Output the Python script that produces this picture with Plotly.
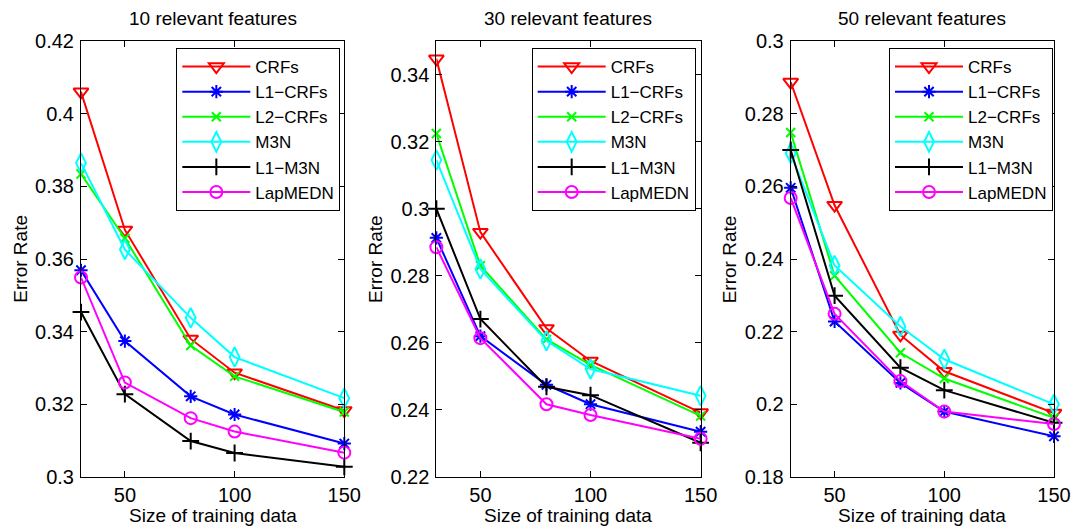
import plotly.graph_objects as go

x_sizes = [30, 50, 80, 100, 150]
methods = ["CRFs", "L1\u2212CRFs", "L2\u2212CRFs", "M3N", "L1\u2212M3N", "LapMEDN"]
titles = ["10 relevant features", "30 relevant features", "50 relevant features"]

p1_crfs = [0.406, 0.368, 0.338, 0.3287, 0.3183]
p1_l1crfs = [0.3569, 0.3374, 0.3222, 0.3172, 0.3092]
p1_l2crfs = [0.3834, 0.3657, 0.3362, 0.3277, 0.3179]
p1_m3n = [0.3864, 0.3626, 0.3438, 0.333, 0.3217]
p1_l1m3n = [0.3454, 0.3228, 0.3099, 0.3066, 0.3028]
p1_lapmedn = [0.3549, 0.326, 0.3162, 0.3125, 0.3067]

p2_crfs = [0.3447, 0.293, 0.2643, 0.2546, 0.2392]
p2_l1crfs = [0.2913, 0.262, 0.2475, 0.2417, 0.2335]
p2_l2crfs = [0.3224, 0.283, 0.261, 0.2534, 0.2382]
p2_m3n = [0.3145, 0.282, 0.2606, 0.2522, 0.2442]
p2_l1m3n = [0.300, 0.2671, 0.2469, 0.2444, 0.2302]
p2_lapmedn = [0.2885, 0.2614, 0.2417, 0.2385, 0.2314]

p3_crfs = [0.2887, 0.2548, 0.2191, 0.2091, 0.1976]
p3_l1crfs = [0.2596, 0.2228, 0.2059, 0.198, 0.1912]
p3_l2crfs = [0.2748, 0.2354, 0.2142, 0.2071, 0.1963]
p3_m3n = [0.2691, 0.2382, 0.2214, 0.2124, 0.2]
p3_l1m3n = [0.270, 0.2299, 0.2101, 0.2039, 0.1949]
p3_lapmedn = [0.2568, 0.2249, 0.2064, 0.198, 0.1946]

x_ticks = [50, 100, 150]
y1_ticks = [0.30, 0.32, 0.34, 0.36, 0.38, 0.40, 0.42]
y1_labels = ["0.3", "0.32", "0.34", "0.36", "0.38", "0.4", "0.42"]
y2_ticks = [0.22, 0.24, 0.26, 0.28, 0.30, 0.32, 0.34]
y2_labels = ["0.22", "0.24", "0.26", "0.28", "0.3", "0.32", "0.34"]
y3_ticks = [0.18, 0.20, 0.22, 0.24, 0.26, 0.28, 0.30]
y3_labels = ["0.18", "0.2", "0.22", "0.24", "0.26", "0.28", "0.3"]

panels = [
    [p1_crfs, p1_l1crfs, p1_l2crfs, p1_m3n, p1_l1m3n, p1_lapmedn],
    [p2_crfs, p2_l1crfs, p2_l2crfs, p2_m3n, p2_l1m3n, p2_lapmedn],
    [p3_crfs, p3_l1crfs, p3_l2crfs, p3_m3n, p3_l1m3n, p3_lapmedn],
]
y_ranges = [[0.30, 0.42], [0.22, 0.35], [0.18, 0.30]]
y_ticks = [y1_ticks, y2_ticks, y3_ticks]
y_labels = [y1_labels, y2_labels, y3_labels]

colors = ["#FF0000", "#0000FF", "#00FF00", "#00FFFF", "#000000", "#FF00FF"]
symbols = ["triangle-down-open", "asterisk-open", "x-thin-open", "diamond-tall-open",
           "cross-thin-open", "circle-open"]
msizes = [13, 11, 9, 14, 12, 12]

FONT = "Liberation Sans, Arial, sans-serif"
OFF = 8  # page body margin
W, H = 1083 - OFF, 527 - OFF
px_domains = [(81 - OFF, 347 - OFF), (440 - OFF, 707 - OFF), (798 - OFF, 1064 - OFF)]
top_px, bot_px = 41 - OFF, 477 - OFF
ml = px_domains[0][0]
mr = W - px_domains[2][1]
mt = top_px
mb = H - bot_px
pw = W - ml - mr
ph = H - mt - mb
domains = [[(a - ml) / pw, (b - ml) / pw] for a, b in px_domains]
legend_right = [343 - OFF, 702 - OFF, 1063 - OFF]
legend_top = 48 - OFF

fig = go.Figure()
layout = dict(
    width=W, height=H,
    margin=dict(l=ml, r=mr, t=mt, b=mb),
    paper_bgcolor="white", plot_bgcolor="white",
    font=dict(family=FONT, size=19, color="black"),
    annotations=[],
)

for p in range(3):
    sfx = "" if p == 0 else str(p + 1)
    lg = "legend" if p == 0 else "legend" + str(p + 1)
    for i, name in enumerate(methods):
        fig.add_trace(go.Scatter(
            x=x_sizes, y=panels[p][i], name=name, mode="lines+markers",
            line=dict(color=colors[i], width=2), cliponaxis=False,
            marker=dict(symbol=symbols[i], size=msizes[i], color=colors[i],
                        line=dict(color=colors[i], width=2)),
            xaxis="x" + sfx, yaxis="y" + sfx, legend=lg,
        ))
    layout["xaxis" + sfx] = dict(
        domain=domains[p], anchor="y" + sfx, range=[30, 150],
        tickvals=x_ticks, ticks="inside", ticklen=6, tickcolor="black",
        showline=True, linecolor="black", linewidth=1, mirror="ticks",
        showgrid=False, zeroline=False, tickfont=dict(size=20),
    )
    layout["yaxis" + sfx] = dict(
        domain=[0, 1], anchor="x" + sfx, range=y_ranges[p],
        tickvals=y_ticks[p], ticktext=y_labels[p], ticks="inside", ticklen=6,
        tickcolor="black", showline=True, linecolor="black", linewidth=1,
        mirror="ticks", showgrid=False, zeroline=False, tickfont=dict(size=20),
        ticklabelstandoff=2,
    )
    layout[lg] = dict(
        x=(legend_right[p] - ml) / pw, y=1 - (legend_top - mt) / ph,
        xanchor="right", yanchor="top", xref="paper", yref="paper",
        bgcolor="white", bordercolor="black", borderwidth=1,
        font=dict(family=FONT, size=17), tracegroupgap=0, itemwidth=68,
    )
    cx = (sum(px_domains[p]) / 2 - ml) / pw
    layout["annotations"].append(dict(
        text=titles[p], x=cx, y=1 + 22.5 / ph, xref="paper", yref="paper",
        xanchor="center", yanchor="middle", showarrow=False, font=dict(size=19)))
    layout["annotations"].append(dict(
        text="Size of training data", x=cx, y=-38 / ph,
        xref="paper", yref="paper", xanchor="center", yanchor="middle",
        showarrow=False, font=dict(size=19)))
    ylx = px_domains[p][0] - 62
    layout["annotations"].append(dict(
        text="Error Rate", x=(ylx - ml) / pw, y=0.5, xref="paper", yref="paper",
        xanchor="center", yanchor="middle", textangle=-90, showarrow=False,
        font=dict(size=19)))

fig.update_layout(**layout)
fig.write_html("out.html")
